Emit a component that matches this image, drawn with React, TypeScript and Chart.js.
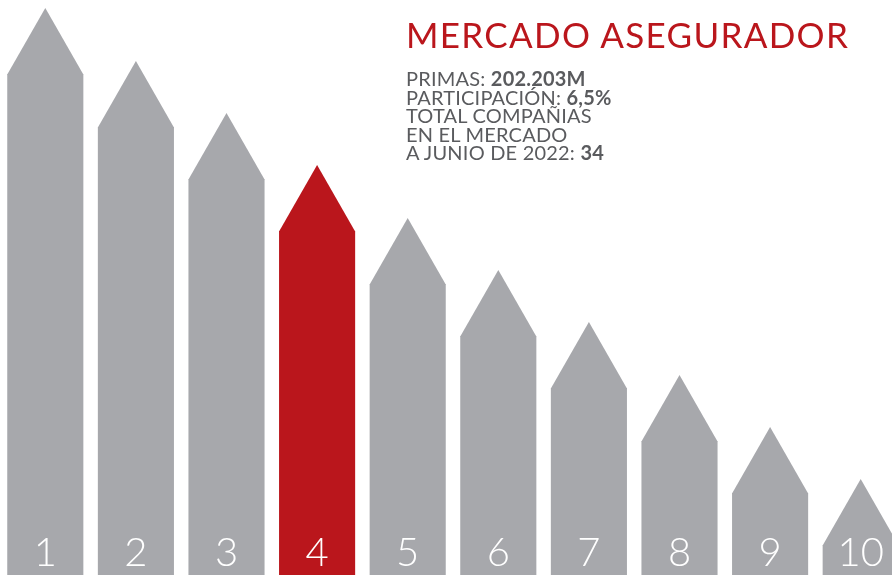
import { useEffect, useRef } from "react";
import { Chart, registerables } from "chart.js";

Chart.register(...registerables);

// ---- data ----
const categories = ["1", "2", "3", "4", "5", "6", "7", "8", "9", "10"];
const shoulderValues = [501, 448, 396, 344, 291, 239, 187, 134, 82, 30];
const highlightIndex = 3;

const titleText = "MERCADO ASEGURADOR";
const infoLines: [string, string][] = [
  ["PRIMAS: ", "202.203M"],
  ["PARTICIPACIÓN: ", "6,5%"],
  ["TOTAL COMPAÑIAS", ""],
  ["EN EL MERCADO", ""],
  ["A JUNIO DE 2022: ", "34"],
];

// ---- styles ----
const GRAY = "#a7a8ac";
const RED = "#ba161c";
const ROOF_H = 66;
const barColors = categories.map((_, i) => (i === highlightIndex ? RED : GRAY));

const roofPlugin = {
  id: "roofs",
  afterDatasetsDraw(chart: any) {
    const meta = chart.getDatasetMeta(0);
    const ctx = chart.ctx as CanvasRenderingContext2D;
    const bottom = chart.chartArea.bottom;
    meta.data.forEach((bar: any, i: number) => {
      const { x, y, width } = bar.getProps(["x", "y", "width"], true);
      ctx.save();
      ctx.fillStyle = barColors[i];
      ctx.beginPath();
      ctx.moveTo(x - width / 2, y + 0.5);
      ctx.lineTo(x, y - ROOF_H);
      ctx.lineTo(x + width / 2, y + 0.5);
      ctx.closePath();
      ctx.fill();
      ctx.fillStyle = "#ffffff";
      ctx.font = "300 40px Lato";
      ctx.textAlign = "center";
      ctx.textBaseline = "alphabetic";
      ctx.fillText(categories[i], x, bottom - 9);
      ctx.restore();
    });
  },
};

export default function App() {
  const ref = useRef<HTMLCanvasElement | null>(null);

  useEffect(() => {
    if (!ref.current) return;
    const chart = new Chart(ref.current, {
      type: "bar",
      data: {
        labels: categories,
        datasets: [
          {
            data: shoulderValues,
            backgroundColor: barColors,
            borderWidth: 0,
            categoryPercentage: 1,
            barPercentage: 0.84,
          },
        ],
      },
      options: {
        animation: false,
        responsive: false,
        maintainAspectRatio: false,
        layout: { padding: 0 },
        plugins: {
          legend: { display: false },
          title: { display: false },
          tooltip: { enabled: false },
        },
        scales: {
          x: { display: false },
          y: { display: false, min: 0, max: 575 },
        },
      },
      plugins: [roofPlugin],
    });
    return () => chart.destroy();
  }, []);

  return (
    <div
      style={{
        position: "fixed",
        left: 0,
        top: 0,
        width: 892,
        height: 575,
        overflow: "hidden",
        background: "#ffffff",
      }}
    >
      <canvas ref={ref} width={906} height={575} style={{ position: "absolute", left: 0, top: 0 }} />
      <div
        style={{
          position: "absolute",
          left: 406,
          top: 17,
          fontFamily: "Lato, sans-serif",
          fontSize: 35,
          lineHeight: "35px",
          letterSpacing: "1.3px",
          color: RED,
          whiteSpace: "nowrap",
        }}
      >
        {titleText}
      </div>
      <div
        style={{
          position: "absolute",
          left: 406,
          top: 69,
          fontFamily: "Lato, sans-serif",
          fontSize: 20,
          lineHeight: "18.5px",
          letterSpacing: "0.2px",
          color: "#5a5b5e",
          whiteSpace: "nowrap",
        }}
      >
        {infoLines.map(([a, b], i) => (
          <div key={i}>
            {a}
            {b && <b style={{ fontWeight: 700 }}>{b}</b>}
          </div>
        ))}
      </div>
    </div>
  );
}
